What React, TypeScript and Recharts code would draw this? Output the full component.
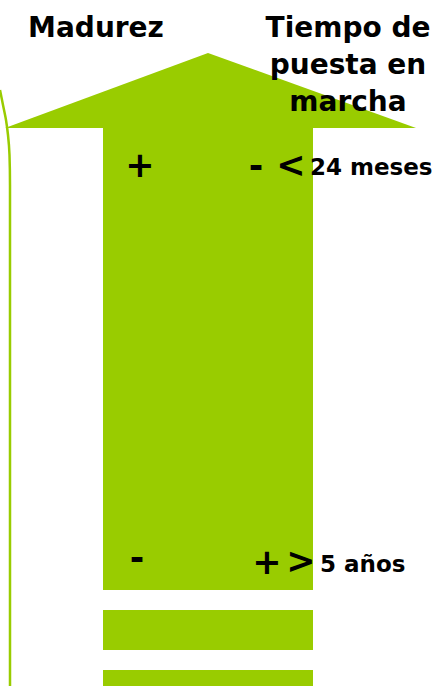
import React from 'react'
import {
  ComposedChart,
  XAxis,
  YAxis,
  Area,
  Line,
  Scatter,
  ReferenceArea,
} from 'recharts'

const GREEN = '#99CC00'
const FONT = '"DejaVu Sans", Verdana, sans-serif'

// arrow head (triangle) in page units, y grows downward
const headX = [5, 208, 416]
const headY = [128, 53, 128]
const headBase = 128

// arrow shaft and the two blocks below it
const shaftLeft = 103
const shaftRight = 313
const blockTop = [128, 610, 670]
const blockBottom = [590, 650, 686]

// thin rail on the left
const railX = [0, 3, 6, 8, 9.5, 10, 10]
const railY = [90, 105, 120, 135, 155, 185, 686]

// texts
const titles = ['Madurez', 'Tiempo de', 'puesta en', 'marcha']
const titleX = [96, 348, 348, 348]
const titleY = [37, 37, 74, 111]

const signs = ['+', '-', '<', '-', '+', '>']
const signX = [140, 256, 291, 137, 267, 301]
const signY = [165, 166, 165, 558, 562, 561]

const notes = ['24 meses', '5 años']
const noteX = [310, 320]
const noteY = [175, 572]

const headData = headX.map((x, i) => ({ x, y: headY[i] }))
const railData = railX.map((x, i) => ({ x, y: railY[i] }))
const titleData = titles.map((t, i) => ({ x: titleX[i], y: titleY[i], t }))
const signData = signs.map((t, i) => ({ x: signX[i], y: signY[i], t }))
const noteData = notes.map((t, i) => ({ x: noteX[i], y: noteY[i], t }))

function textShape(size: number, anchor: string, baseline: string) {
  return (props: any) => (
    <text
      x={props.cx}
      y={props.cy}
      textAnchor={anchor}
      dominantBaseline={baseline}
      fontFamily={FONT}
      fontWeight="bold"
      fontSize={size}
      fill="#000"
    >
      {props.payload.t}
    </text>
  )
}

export default function App() {
  return (
    <div style={{ position: 'absolute', left: 0, top: 0, background: '#fff' }}>
      <ComposedChart
        width={436}
        height={686}
        margin={{ top: 0, right: 0, bottom: 0, left: 0 }}
      >
        <XAxis
          type="number"
          dataKey="x"
          domain={[0, 436]}
          hide
          allowDataOverflow
        />
        <YAxis
          type="number"
          domain={[0, 686]}
          reversed
          hide
          width={0}
          allowDataOverflow
        />
        {blockTop.map((top, i) => (
          <ReferenceArea
            key={i}
            x1={shaftLeft}
            x2={shaftRight}
            y1={top}
            y2={blockBottom[i]}
            fill={GREEN}
            fillOpacity={1}
            stroke="none"
            ifOverflow="visible"
          />
        ))}
        <Area
          data={headData}
          dataKey="y"
          type="linear"
          baseValue={headBase}
          fill={GREEN}
          fillOpacity={1}
          stroke="none"
          isAnimationActive={false}
        />
        <Line
          data={railData}
          dataKey="y"
          type="monotoneY"
          stroke={GREEN}
          strokeWidth={2.5}
          dot={false}
          activeDot={false}
          isAnimationActive={false}
        />
        <Scatter
          data={titleData}
          dataKey="y"
          shape={textShape(28, 'middle', 'alphabetic')}
          isAnimationActive={false}
        />
        <Scatter
          data={signData}
          dataKey="y"
          shape={textShape(35, 'middle', 'central')}
          isAnimationActive={false}
        />
        <Scatter
          data={noteData}
          dataKey="y"
          shape={textShape(23, 'start', 'alphabetic')}
          isAnimationActive={false}
        />
      </ComposedChart>
    </div>
  )
}
